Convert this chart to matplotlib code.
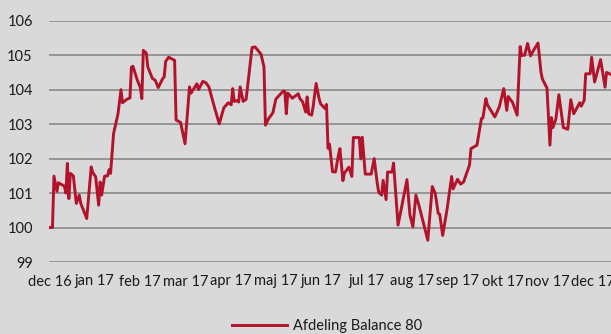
import matplotlib
matplotlib.use("Agg")
import matplotlib.pyplot as plt
import pandas as pd

# Index series.
# x = days since 1 Dec 2016, y = index value
start_date = pd.Timestamp("2016-12-01")
days = [
    0, 2, 3, 5, 6, 8, 10, 11, 12, 13, 14, 16, 18, 20, 21, 25, 28, 29, 31, 33,
    34, 35, 37, 39, 40, 41, 43, 46, 48, 49, 52, 53, 54, 55, 56, 59, 61, 62, 63, 65,
    66, 69, 71, 73, 76, 77, 78, 80, 84, 85, 88, 91, 94, 95, 98, 99, 100, 103, 105, 107,
    111, 114, 117, 120, 122, 123, 124, 126, 127, 128, 130, 132, 136, 138, 142, 144, 145, 147, 150, 152,
    157, 158, 159, 160, 163, 167, 168, 170, 172, 173, 174, 176, 177, 179, 181, 182, 185, 186, 187, 188,
    190, 192, 194, 195, 197, 198, 201, 203, 204, 208, 209, 210, 212, 216, 218, 220, 221, 223, 224, 226,
    227, 230, 231, 234, 236, 240, 242, 244, 246, 248, 250, 254, 257, 259, 261, 262, 264, 267, 270, 271,
    274, 276, 278, 280, 282, 283, 287, 290, 291, 293, 294, 299, 302, 305, 307, 308, 311, 314, 316, 317,
    319, 321, 323, 325, 328, 330, 331, 334, 336, 337, 338, 340, 342, 345, 348, 350, 352, 356, 357, 359,
    360, 363, 364, 366, 370, 373, 374, 377,
]
values = [
    100.00, 100.00, 101.49, 101.05, 101.30, 101.25, 101.20, 101.00, 101.86, 100.84,
    101.57, 101.50, 100.70, 100.94, 100.70, 100.26, 101.76, 101.60, 101.47, 100.65,
    101.32, 100.94, 101.49, 101.50, 101.68, 101.57, 102.72, 103.30, 104.00, 103.62,
    103.72, 103.74, 103.76, 104.65, 104.68, 104.27, 104.06, 103.74, 105.14, 105.06,
    104.66, 104.33, 104.27, 104.06, 104.32, 104.37, 104.82, 104.94, 104.85, 103.12,
    103.05, 102.43, 104.08, 103.90, 104.10, 104.17, 104.00, 104.24, 104.20, 104.08,
    103.45, 103.01, 103.47, 103.62, 103.56, 104.03, 103.66, 103.68, 103.64, 104.08,
    103.66, 103.72, 105.22, 105.24, 105.03, 104.66, 102.97, 103.15, 103.33, 103.73,
    103.96, 103.95, 103.30, 103.90, 103.75, 103.88, 103.75, 103.64, 103.35, 103.79,
    103.30, 103.26, 103.50, 104.18, 103.74, 103.59, 103.45, 103.57, 102.30, 102.42,
    101.62, 101.61, 102.10, 102.29, 101.36, 101.58, 101.75, 101.48, 102.61, 102.61,
    101.99, 102.62, 101.55, 101.55, 102.00, 101.30, 101.03, 100.94, 101.37, 100.81,
    101.61, 101.61, 101.87, 100.07, 100.50, 101.39, 100.36, 100.02, 100.94, 100.65,
    100.31, 99.63, 101.19, 100.99, 100.41, 100.38, 99.77, 100.55, 101.48, 101.12,
    101.40, 101.26, 101.32, 101.57, 101.81, 102.29, 102.39, 103.16, 103.18, 103.74,
    103.56, 103.21, 103.50, 104.03, 103.40, 103.80, 103.62, 103.26, 105.25, 104.99,
    105.00, 105.34, 104.98, 105.14, 105.35, 104.50, 104.30, 104.05, 102.39, 103.19,
    102.90, 103.15, 103.85, 102.90, 102.85, 103.71, 103.30, 103.62, 103.52, 103.69,
    104.46, 104.46, 104.94, 104.22, 104.87, 104.07, 104.50, 104.44,
]
series_name = "Afdeling Balance 80"

tick_labels = ["dec 16", "jan 17", "feb 17", "mar 17", "apr 17", "maj 17", "jun 17",
               "jul 17", "aug 17", "sep 17", "okt 17", "nov 17", "dec 17"]
y_ticks = [99, 100, 101, 102, 103, 104, 105, 106]

dates = start_date + pd.to_timedelta(days, unit="D")
# the category-style axis spaces the month labels evenly
tick_pos = start_date + pd.to_timedelta([i * 365 / 12 for i in range(len(tick_labels))], unit="D")

bg = "#d9d9d9"
red = "#b3122b"
grid_col = "#8f8f8f"

plt.rcParams["font.family"] = ["Lato", "DejaVu Sans"]

fig = plt.figure(figsize=(6.11, 3.34), dpi=100, facecolor=bg)
ax = fig.add_axes([49.5 / 611, 1 - 262 / 334, 1 - 49.5 / 611, (262 - 20.7) / 334])
ax.set_facecolor(bg)

line, = ax.plot(dates, values, color=red, linewidth=2.1, label=series_name,
                solid_joinstyle="round")

ax.set_ylim(99, 106)
ax.set_xlim(start_date, start_date + pd.Timedelta(days=377))
ax.set_yticks(y_ticks)
ax.set_yticklabels([str(v) for v in y_ticks])
ax.set_xticks(tick_pos)
ax.set_xticklabels(tick_labels)

ax.grid(axis="y", color=grid_col, linewidth=1.3)
ax.set_axisbelow(True)
for s in ax.spines.values():
    s.set_visible(False)
ax.tick_params(axis="both", length=0, labelsize=10.5, colors="#1a1a1a")
ax.tick_params(axis="y", pad=12)
ax.tick_params(axis="x", pad=9)

fig.legend(handles=[line], loc="center", bbox_to_anchor=(0.535, 0.024),
           frameon=False, fontsize=10.5, handlelength=3.8, handletextpad=0.4,
           labelcolor="#1a1a1a")

fig.savefig("out.png", dpi=100, facecolor=bg)
